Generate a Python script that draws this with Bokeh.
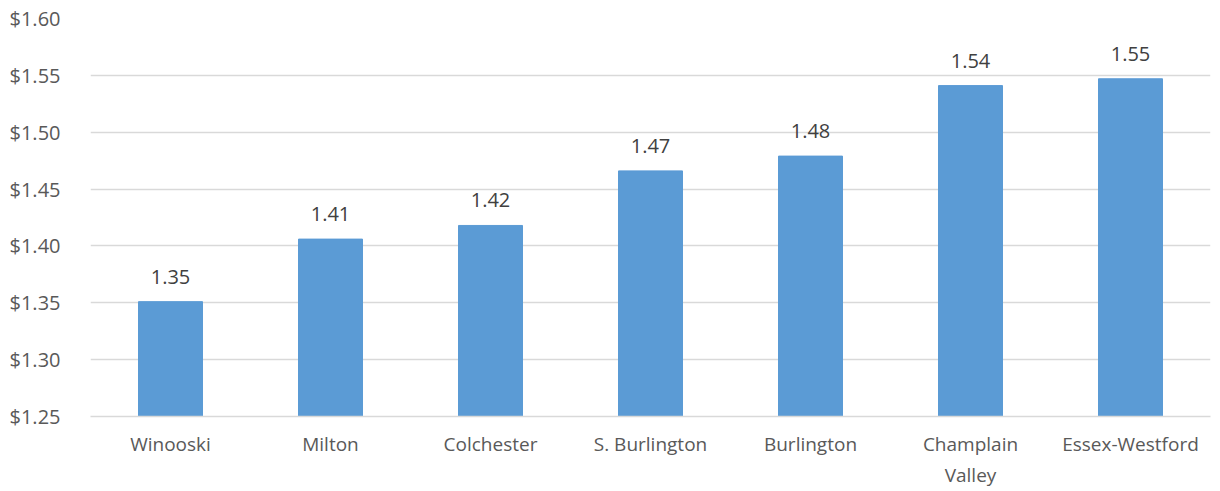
from bokeh.plotting import figure
from bokeh.models import ColumnDataSource, NumeralTickFormatter, FixedTicker, Range1d
from bokeh.core.properties import value
from bokeh.embed import file_html
from bokeh.resources import INLINE

districts = ["Winooski", "Milton", "Colchester", "S. Burlington", "Burlington",
             "Champlain\nValley", "Essex-Westford"]
rates = [1.351, 1.406, 1.418, 1.466, 1.479, 1.541, 1.547]
y_ticks = [1.25, 1.30, 1.35, 1.40, 1.45, 1.50, 1.55, 1.60]

labels = ["{:.2f}".format(v) for v in rates]
src = ColumnDataSource(dict(x=districts, top=rates, label=labels))

FONT = "Open Sans"
TXT = "#595959"

p = figure(x_range=districts, y_range=Range1d(1.25, 1.60),
           frame_width=1120, frame_height=398,
           min_border_left=90, min_border_right=10, min_border_top=18, min_border_bottom=75,
           output_backend="svg", toolbar_location=None, outline_line_color=None)

p.vbar(x="x", top="top", bottom=1.25, width=0.4, source=src,
       fill_color="#5B9BD5", line_color="#5B9BD5")
p.text(x="x", y="top", text="label", source=src, text_align="center",
       text_baseline="middle", y_offset=-25, text_font=value(FONT),
       text_font_size="20px", text_color="#404040")

p.xgrid.grid_line_color = None
p.ygrid.grid_line_color = "#D9D9D9"
p.ygrid.grid_line_width = 1.3

p.yaxis.ticker = FixedTicker(ticks=y_ticks)
p.yaxis.formatter = NumeralTickFormatter(format="$0.00")
p.yaxis.axis_line_color = None
p.yaxis.major_tick_line_color = None
p.yaxis.minor_tick_line_color = None
p.yaxis.major_label_standoff = 24
p.yaxis.major_label_text_font = FONT
p.yaxis.major_label_text_font_size = "20px"
p.yaxis.major_label_text_color = TXT

p.xaxis.axis_line_color = "#D9D9D9"
p.xaxis.axis_line_width = 1.5
p.xaxis.major_tick_line_color = None
p.xaxis.minor_tick_line_color = None
p.xaxis.major_label_standoff = 8
p.xaxis.major_label_text_font = FONT
p.xaxis.major_label_text_font_size = "19px"
p.xaxis.major_label_text_color = TXT

open("out.html", "w").write(file_html(p, INLINE))
